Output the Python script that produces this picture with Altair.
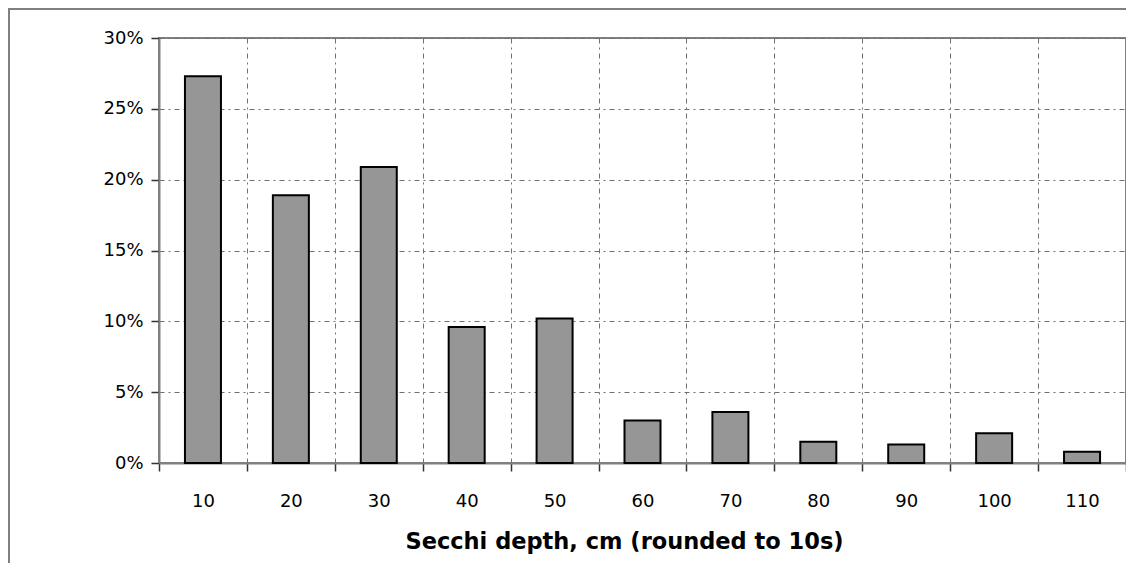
import altair as alt
import pandas as pd

depth_labels = ["10", "20", "30", "40", "50", "60", "70", "80", "90", "100", "110"]
share_pct = [27.3, 18.9, 20.9, 9.6, 10.2, 3.0, 3.6, 1.5, 1.3, 2.1, 0.8]
y_tick_pct = [0, 5, 10, 15, 20, 25, 30]
x_title = "Secchi depth, cm (rounded to 10s)"

df = pd.DataFrame({"depth": depth_labels, "share": [v / 100 for v in share_pct]})

W, H = 967, 425
FONT = "DejaVu Sans"
GRID_DASH = [5, 4, 2, 4]

bars = alt.Chart(df).mark_bar(
    size=36, fill="#969696", stroke="black", strokeWidth=2
).encode(
    x=alt.X(
        "depth:N",
        sort=depth_labels,
        scale=alt.Scale(paddingInner=0, paddingOuter=0),
        axis=alt.Axis(
            title=x_title,
            labelAngle=0,
            tickBand="extent",
            tickSize=8,
            tickColor="#333333",
            tickWidth=1.5,
            domainColor="#808080",
            domainWidth=2,
            grid=True,
            gridColor="#707070",
            gridDash=GRID_DASH,
            gridWidth=1,
            labelFont=FONT,
            labelFontSize=18,
            labelColor="black",
            labelBaseline="alphabetic",
            labelPadding=35,
            titleFont=FONT,
            titleFontSize=22.5,
            titleFontWeight="bold",
            titleColor="black",
            titleX=465,
            titleY=85,
            titleBaseline="alphabetic",
        ),
    ),
    y=alt.Y(
        "share:Q",
        scale=alt.Scale(domain=[0, 0.3], nice=False),
        axis=alt.Axis(
            title=None,
            values=[v / 100 for v in y_tick_pct],
            format=".0%",
            tickSize=8,
            tickColor="#333333",
            tickWidth=1.5,
            domainColor="#808080",
            domainWidth=2,
            grid=True,
            gridColor="#707070",
            gridDash=GRID_DASH,
            gridWidth=1,
            labelFont=FONT,
            labelFontSize=18,
            labelColor="black",
            labelPadding=8,
        ),
    ),
)

frame = alt.Chart(alt.Data(values=[{}])).mark_rect(
    fill=None, stroke="#808080", strokeWidth=2, clip=False
).encode(
    x=alt.value(-150),
    x2=alt.value(W + 60),
    y=alt.value(-29),
    y2=alt.value(H + 200),
)

chart = alt.layer(frame, bars).properties(
    width=W,
    height=H,
    padding={"left": 151, "top": 30, "right": 0, "bottom": 100},
    autosize=alt.AutoSizeParams(type="none"),
).configure_view(
    stroke="#808080", strokeWidth=2
)

chart.save("out.html", embed_options={"renderer": "svg", "actions": False})
